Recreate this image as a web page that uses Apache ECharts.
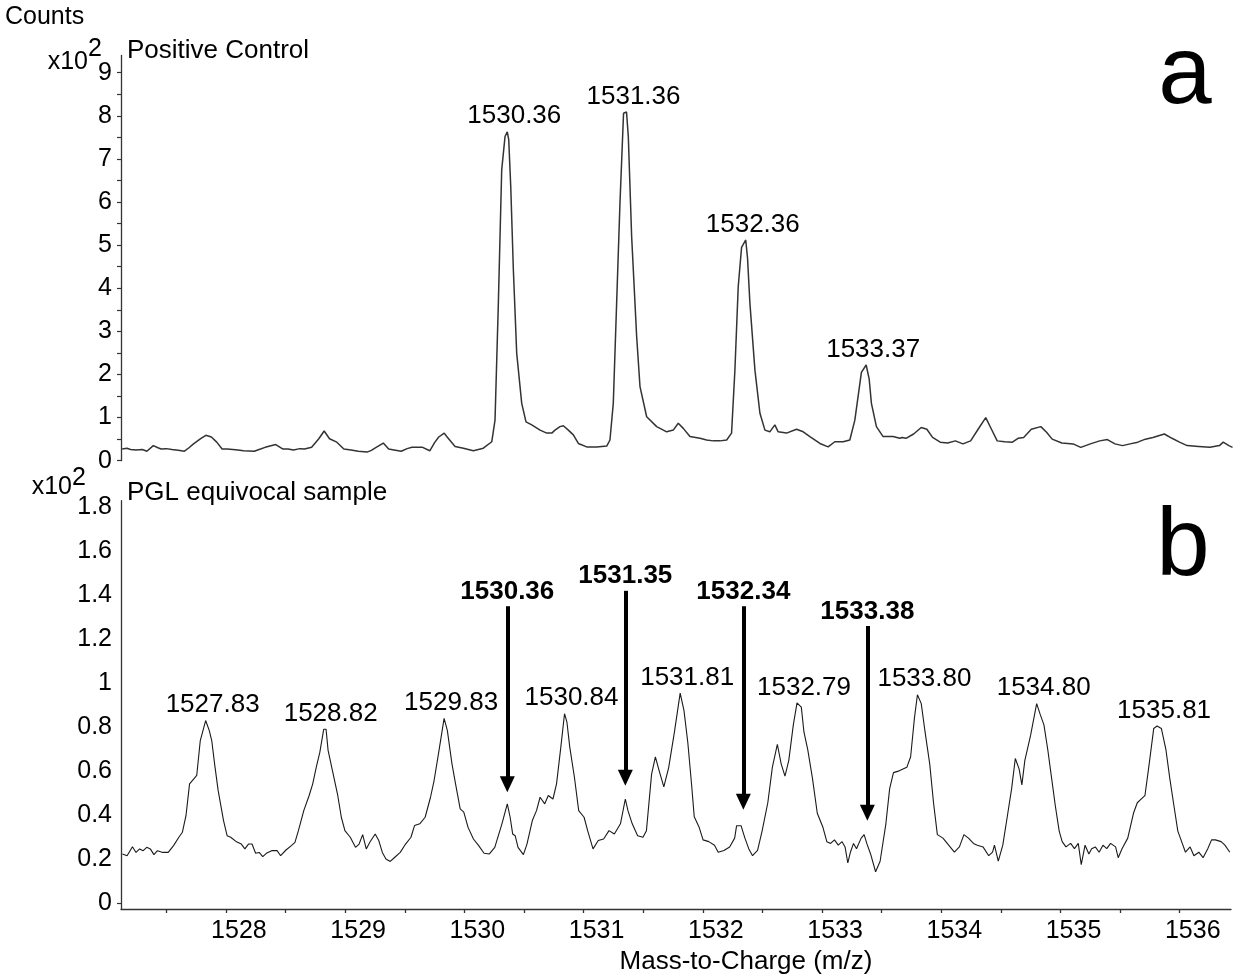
<!DOCTYPE html>
<html>
<head>
<meta charset="utf-8">
<title>Mass spectra</title>
<script src="https://cdn.jsdelivr.net/npm/echarts@6/dist/echarts.min.js"></script>
<style>
  html, body { margin: 0; padding: 0; background: #fff; }
  #chart { width: 1233px; height: 978px; }
</style>
</head>
<body>
<div id="chart"></div>
<script>
// ---- data -------------------------------------------------------------
// Counts are in units of x10^2. Each pair is [m/z, counts].

// Panel a: Positive Control
const topSpectrum = [
  [1527.13, 0.27], [1527.17, 0.29], [1527.2, 0.26], [1527.246, 0.25], [1527.3, 0.26],
  [1527.337, 0.22], [1527.391, 0.35], [1527.43, 0.3], [1527.457, 0.27], [1527.5, 0.28],
  [1527.547, 0.26], [1527.6, 0.24], [1527.652, 0.22], [1527.69, 0.3], [1527.728, 0.39],
  [1527.788, 0.51], [1527.832, 0.59], [1527.878, 0.55], [1527.923, 0.43], [1527.968, 0.27],
  [1528.01, 0.27], [1528.058, 0.26], [1528.1, 0.25], [1528.148, 0.23], [1528.238, 0.22],
  [1528.29, 0.27], [1528.329, 0.31], [1528.418, 0.375], [1528.479, 0.27], [1528.52, 0.27],
  [1528.568, 0.25], [1528.62, 0.28], [1528.659, 0.27], [1528.719, 0.31], [1528.779, 0.51],
  [1528.824, 0.69], [1528.869, 0.51], [1528.93, 0.43], [1528.989, 0.27], [1529.049, 0.25],
  [1529.11, 0.22], [1529.184, 0.2], [1529.22, 0.24], [1529.26, 0.31], [1529.32, 0.41],
  [1529.365, 0.27], [1529.41, 0.25], [1529.47, 0.22], [1529.52, 0.28], [1529.56, 0.31],
  [1529.61, 0.31], [1529.65, 0.31], [1529.71, 0.23], [1529.75, 0.42], [1529.785, 0.55],
  [1529.831, 0.64], [1529.852, 0.56], [1529.922, 0.33], [1529.992, 0.29], [1530.075, 0.23],
  [1530.159, 0.29], [1530.23, 0.44], [1530.257, 0.94], [1530.285, 3.65], [1530.313, 6.74],
  [1530.341, 7.52], [1530.36, 7.63], [1530.372, 7.45], [1530.389, 6.36], [1530.411, 4.42],
  [1530.439, 2.49], [1530.481, 1.33], [1530.517, 0.9], [1530.565, 0.83], [1530.635, 0.71],
  [1530.691, 0.64], [1530.733, 0.64], [1530.76, 0.71], [1530.802, 0.79], [1530.83, 0.81],
  [1530.872, 0.71], [1530.914, 0.6], [1530.956, 0.4], [1531.026, 0.32], [1531.11, 0.32],
  [1531.194, 0.34], [1531.221, 0.48], [1531.249, 1.33], [1531.277, 3.65], [1531.305, 5.97],
  [1531.335, 8.06], [1531.36, 8.09], [1531.375, 7.52], [1531.403, 5.2], [1531.445, 2.88],
  [1531.473, 1.72], [1531.529, 1.02], [1531.613, 0.79], [1531.697, 0.67], [1531.752, 0.71],
  [1531.794, 0.87], [1531.836, 0.75], [1531.892, 0.56], [1531.976, 0.52], [1532.032, 0.48],
  [1532.087, 0.46], [1532.143, 0.46], [1532.2, 0.48], [1532.241, 0.64], [1532.269, 2.1],
  [1532.297, 4.04], [1532.325, 4.95], [1532.36, 5.12], [1532.375, 4.7], [1532.395, 3.65],
  [1532.437, 2.1], [1532.479, 1.1], [1532.521, 0.71], [1532.562, 0.67], [1532.604, 0.83],
  [1532.632, 0.67], [1532.702, 0.64], [1532.786, 0.73], [1532.842, 0.67], [1532.898, 0.56],
  [1532.982, 0.4], [1533.051, 0.32], [1533.107, 0.44], [1533.177, 0.44], [1533.233, 0.48],
  [1533.275, 0.94], [1533.33, 2.05], [1533.37, 2.22], [1533.395, 1.9], [1533.414, 1.33],
  [1533.456, 0.79], [1533.512, 0.56], [1533.596, 0.56], [1533.652, 0.52], [1533.672, 0.54],
  [1533.704, 0.52], [1533.768, 0.62], [1533.832, 0.77], [1533.879, 0.73], [1533.927, 0.54],
  [1533.991, 0.43], [1534.054, 0.41], [1534.118, 0.46], [1534.182, 0.39], [1534.246, 0.46],
  [1534.309, 0.73], [1534.373, 1.0], [1534.421, 0.73], [1534.469, 0.46], [1534.532, 0.44],
  [1534.596, 0.43], [1534.644, 0.52], [1534.691, 0.54], [1534.755, 0.73], [1534.835, 0.79],
  [1534.883, 0.66], [1534.93, 0.5], [1535.011, 0.41], [1535.106, 0.39], [1535.17, 0.31],
  [1535.25, 0.39], [1535.329, 0.46], [1535.393, 0.49], [1535.457, 0.39], [1535.52, 0.35],
  [1535.584, 0.39], [1535.648, 0.43], [1535.712, 0.5], [1535.775, 0.54], [1535.871, 0.62],
  [1535.935, 0.52], [1535.998, 0.43], [1536.062, 0.35], [1536.158, 0.33], [1536.253, 0.31],
  [1536.333, 0.35], [1536.365, 0.43], [1536.412, 0.35], [1536.443, 0.31]
];
const topPeakMz = [1530.36, 1531.36, 1532.36, 1533.37];
const topPeakCounts = [7.63, 8.09, 5.12, 2.22];

// Panel b: PGL equivocal sample
const bottomSpectrum = [
  [1527.132, 0.223], [1527.171, 0.215], [1527.216, 0.256], [1527.246, 0.23], [1527.276, 0.246],
  [1527.306, 0.238], [1527.336, 0.253], [1527.366, 0.246], [1527.396, 0.22], [1527.426, 0.238],
  [1527.471, 0.23], [1527.516, 0.23], [1527.561, 0.261], [1527.605, 0.299], [1527.635, 0.322],
  [1527.665, 0.397], [1527.695, 0.542], [1527.731, 0.565], [1527.755, 0.58], [1527.785, 0.739],
  [1527.83, 0.83], [1527.86, 0.785], [1527.881, 0.739], [1527.905, 0.633], [1527.935, 0.511],
  [1527.98, 0.375], [1528.01, 0.306], [1528.04, 0.299], [1528.084, 0.28], [1528.129, 0.268],
  [1528.159, 0.246], [1528.189, 0.268], [1528.219, 0.268], [1528.249, 0.226], [1528.279, 0.23],
  [1528.309, 0.211], [1528.339, 0.226], [1528.384, 0.238], [1528.429, 0.238], [1528.459, 0.215],
  [1528.504, 0.241], [1528.549, 0.261], [1528.579, 0.276], [1528.608, 0.329], [1528.653, 0.42],
  [1528.698, 0.489], [1528.728, 0.542], [1528.758, 0.618], [1528.788, 0.686], [1528.82, 0.79],
  [1528.84, 0.79], [1528.857, 0.694], [1528.893, 0.603], [1528.938, 0.489], [1528.968, 0.39],
  [1528.998, 0.329], [1529.043, 0.299], [1529.087, 0.253], [1529.117, 0.268], [1529.147, 0.311],
  [1529.177, 0.246], [1529.207, 0.276], [1529.252, 0.314], [1529.282, 0.284], [1529.312, 0.23],
  [1529.342, 0.2], [1529.378, 0.189], [1529.417, 0.208], [1529.462, 0.23], [1529.507, 0.268],
  [1529.552, 0.299], [1529.582, 0.352], [1529.626, 0.36], [1529.671, 0.39], [1529.716, 0.481],
  [1529.746, 0.557], [1529.785, 0.686], [1529.83, 0.84], [1529.857, 0.785], [1529.896, 0.633],
  [1529.926, 0.542], [1529.965, 0.428], [1529.995, 0.413], [1530.031, 0.344], [1530.076, 0.291],
  [1530.12, 0.261], [1530.165, 0.226], [1530.21, 0.223], [1530.255, 0.253], [1530.315, 0.36],
  [1530.36, 0.451], [1530.384, 0.39], [1530.405, 0.314], [1530.426, 0.306], [1530.45, 0.253],
  [1530.495, 0.22], [1530.525, 0.268], [1530.57, 0.375], [1530.605, 0.42], [1530.635, 0.481],
  [1530.674, 0.451], [1530.704, 0.489], [1530.743, 0.473], [1530.773, 0.542], [1530.809, 0.709],
  [1530.84, 0.861], [1530.86, 0.823], [1530.884, 0.709], [1530.923, 0.572], [1530.959, 0.42],
  [1531.004, 0.39], [1531.034, 0.329], [1531.079, 0.246], [1531.123, 0.284], [1531.168, 0.291],
  [1531.213, 0.329], [1531.258, 0.314], [1531.309, 0.36], [1531.35, 0.473], [1531.372, 0.42],
  [1531.408, 0.36], [1531.453, 0.306], [1531.498, 0.299], [1531.527, 0.329], [1531.57, 0.585],
  [1531.602, 0.665], [1531.634, 0.601], [1531.673, 0.528], [1531.714, 0.617], [1531.762, 0.778],
  [1531.81, 0.955], [1531.842, 0.875], [1531.874, 0.73], [1531.906, 0.537], [1531.928, 0.392],
  [1531.97, 0.343], [1532.002, 0.287], [1532.05, 0.279], [1532.098, 0.263], [1532.129, 0.231],
  [1532.177, 0.239], [1532.225, 0.255], [1532.267, 0.295], [1532.283, 0.351], [1532.321, 0.351],
  [1532.353, 0.295], [1532.385, 0.247], [1532.417, 0.215], [1532.459, 0.239], [1532.497, 0.327],
  [1532.545, 0.456], [1532.583, 0.617], [1532.625, 0.722], [1532.657, 0.633], [1532.689, 0.577],
  [1532.721, 0.649], [1532.759, 0.81], [1532.79, 0.91], [1532.826, 0.891], [1532.848, 0.778],
  [1532.88, 0.698], [1532.919, 0.569], [1532.96, 0.408], [1533.008, 0.343], [1533.04, 0.279],
  [1533.072, 0.271], [1533.104, 0.287], [1533.136, 0.263], [1533.168, 0.279], [1533.193, 0.255],
  [1533.216, 0.182], [1533.238, 0.231], [1533.264, 0.271], [1533.289, 0.247], [1533.328, 0.295],
  [1533.353, 0.311], [1533.375, 0.271], [1533.407, 0.223], [1533.449, 0.142], [1533.487, 0.19],
  [1533.535, 0.359], [1533.567, 0.52], [1533.599, 0.593], [1533.647, 0.601], [1533.679, 0.609],
  [1533.711, 0.617], [1533.743, 0.665], [1533.775, 0.842], [1533.8, 0.947], [1533.832, 0.907],
  [1533.864, 0.778], [1533.903, 0.633], [1533.935, 0.456], [1533.967, 0.311], [1534.014, 0.295],
  [1534.062, 0.263], [1534.11, 0.231], [1534.152, 0.255], [1534.19, 0.311], [1534.228, 0.295],
  [1534.27, 0.271], [1534.302, 0.263], [1534.35, 0.255], [1534.398, 0.215], [1534.43, 0.231],
  [1534.446, 0.263], [1534.478, 0.19], [1534.516, 0.263], [1534.558, 0.408], [1534.59, 0.52],
  [1534.621, 0.657], [1534.653, 0.609], [1534.676, 0.537], [1534.701, 0.649], [1534.749, 0.762],
  [1534.8, 0.907], [1534.829, 0.859], [1534.861, 0.81], [1534.893, 0.698], [1534.925, 0.569],
  [1534.957, 0.44], [1534.989, 0.327], [1535.014, 0.279], [1535.046, 0.255], [1535.085, 0.271],
  [1535.117, 0.247], [1535.149, 0.271], [1535.174, 0.174], [1535.206, 0.263], [1535.238, 0.223],
  [1535.261, 0.247], [1535.292, 0.255], [1535.324, 0.231], [1535.356, 0.263], [1535.388, 0.247],
  [1535.42, 0.271], [1535.462, 0.255], [1535.484, 0.206], [1535.516, 0.247], [1535.564, 0.295],
  [1535.612, 0.408], [1535.644, 0.456], [1535.676, 0.472], [1535.708, 0.488], [1535.74, 0.617],
  [1535.782, 0.794], [1535.81, 0.805], [1535.846, 0.794], [1535.884, 0.698], [1535.916, 0.569],
  [1535.952, 0.44], [1535.984, 0.327], [1536.016, 0.279], [1536.048, 0.231], [1536.087, 0.255],
  [1536.119, 0.215], [1536.16, 0.231], [1536.196, 0.206], [1536.235, 0.247], [1536.267, 0.287],
  [1536.299, 0.287], [1536.347, 0.279], [1536.379, 0.263], [1536.42, 0.231]
];
const bottomPeakMz = [1527.83, 1528.82, 1529.83, 1530.84, 1531.81, 1532.79, 1533.80, 1534.80, 1535.81];
const bottomPeakCounts = [0.83, 0.79, 0.84, 0.861, 0.955, 0.91, 0.947, 0.907, 0.805];

// Arrows pointing at the weak isotope signals (bold labels)
const arrowMz = [1530.36, 1531.35, 1532.34, 1533.38];
const arrowTop = [1.35, 1.42, 1.35, 1.26];
const arrowEnd = [0.54, 0.57, 0.46, 0.41];

// Axis ticks and labels
const xLabelValues = [1528, 1529, 1530, 1531, 1532, 1533, 1534, 1535, 1536];
const xTickValues = [1527.5, 1528, 1528.5, 1529, 1529.5, 1530, 1530.5, 1531, 1531.5, 1532,
                     1532.5, 1533, 1533.5, 1534, 1534.5, 1535, 1535.5, 1536];
const topYLabels = [0, 1, 2, 3, 4, 5, 6, 7, 8, 9];
const topYTicks = [0, 0.5, 1, 1.5, 2, 2.5, 3, 3.5, 4, 4.5, 5, 5.5, 6, 6.5, 7, 7.5, 8, 8.5, 9];
const bottomYLabels = [0, 0.2, 0.4, 0.6, 0.8, 1, 1.2, 1.4, 1.6, 1.8];
const bottomYTicks = [0];

// ---- chart ------------------------------------------------------------
const FONT = '"Liberation Sans", Arial, Helvetica, sans-serif';
const INK = '#000';
const AXIS = '#333';
const X_MIN = 1527.12, X_MAX = 1536.43;

const chart = echarts.init(document.getElementById('chart'), null, { renderer: 'canvas' });

const fmtMz = p => p.value[0].toFixed(2);
const plainNumber = v => String(v);

function labelSeries(xi, mz, counts, bold) {
  return {
    type: 'scatter',
    xAxisIndex: xi, yAxisIndex: xi,
    data: mz.map((m, i) => [m, counts[i]]),
    symbolSize: 1,
    itemStyle: { color: 'rgba(255,255,255,0)' },
    silent: true,
    z: 5,
    label: {
      show: true, position: 'top',
      distance: bold ? 1 : 2,
      offset: bold ? [0, 0] : [7, 0],
      formatter: fmtMz, fontSize: 26,
      fontWeight: bold ? 'bold' : 'normal',
      color: INK, opacity: 1, fontFamily: FONT
    }
  };
}

const yAxisCommon = {
  type: 'value',
  splitLine: { show: false },
  axisLine: { show: true, onZero: false, lineStyle: { color: AXIS, width: 1.3 } }
};

const option = {
  animation: false,
  backgroundColor: '#fff',
  textStyle: { fontFamily: FONT },
  grid: [
    { left: 121, right: 2, top: 55.5, height: 405.2 },
    { left: 121, right: 2, top: 500.7, height: 408.3 }
  ],
  xAxis: [
    { type: 'value', gridIndex: 0, min: X_MIN, max: X_MAX, show: false },
    {
      type: 'value', gridIndex: 1, min: X_MIN, max: X_MAX,
      name: 'Mass-to-Charge (m/z)', nameLocation: 'middle', nameGap: 40,
      nameTextStyle: { fontSize: 26, color: INK, fontFamily: FONT, padding: [0, 0, 0, 140] },
      splitLine: { show: false },
      axisLine: { show: true, onZero: false, lineStyle: { color: AXIS, width: 1.3 } },
      axisTick: { show: true, customValues: xTickValues, length: 4, lineStyle: { color: AXIS, width: 1.3 } },
      axisLabel: {
        customValues: xLabelValues, formatter: plainNumber,
        fontSize: 25, color: INK, fontFamily: FONT, margin: 10, padding: [0, 0, 0, 26]
      }
    }
  ],
  yAxis: [
    Object.assign({}, yAxisCommon, {
      gridIndex: 0, min: 0, max: 9.4,
      axisTick: { show: true, customValues: topYTicks, length: 4, lineStyle: { color: AXIS, width: 1.2 } },
      axisLabel: { customValues: topYLabels, formatter: plainNumber, fontSize: 25, color: INK, fontFamily: FONT, margin: 9 }
    }),
    Object.assign({}, yAxisCommon, {
      gridIndex: 1, min: -0.0274, max: 1.83,
      axisTick: { show: true, customValues: bottomYTicks, length: 4, lineStyle: { color: AXIS, width: 1.2 } },
      axisLabel: { customValues: bottomYLabels, formatter: plainNumber, fontSize: 25, color: INK, fontFamily: FONT, margin: 9 }
    })
  ],
  series: [
    {
      type: 'line', xAxisIndex: 0, yAxisIndex: 0,
      data: topSpectrum, showSymbol: false, silent: true,
      lineStyle: { color: '#333', width: 1.5 }
    },
    labelSeries(0, topPeakMz, topPeakCounts, false),
    {
      type: 'line', xAxisIndex: 1, yAxisIndex: 1,
      data: bottomSpectrum, showSymbol: false, silent: true,
      lineStyle: { color: '#1a1a1a', width: 1.1 },
      markLine: {
        silent: true, animation: false,
        symbol: ['none', 'triangle'], symbolSize: [15, 16],
        lineStyle: { color: '#000', width: 4, type: 'solid' },
        label: { show: false },
        emphasis: { disabled: true },
        data: arrowMz.map((m, i) => [{ coord: [m, arrowTop[i]] }, { coord: [m, arrowEnd[i]] }])
      }
    },
    labelSeries(1, bottomPeakMz, bottomPeakCounts, false),
    labelSeries(1, arrowMz, arrowTop, true)
  ],
  graphic: [
    { type: 'text', x: 5, y: 17.5, style: { text: 'Counts', fontSize: 25, fontFamily: FONT, fill: INK, align: 'left', verticalAlign: 'middle' } },
    { type: 'text', x: 88, y: 62, style: { text: 'x10', fontSize: 25, fontFamily: FONT, fill: INK, align: 'right', verticalAlign: 'middle' } },
    { type: 'text', x: 88, y: 49, style: { text: '2', fontSize: 25, fontFamily: FONT, fill: INK, align: 'left', verticalAlign: 'middle' } },
    { type: 'text', x: 127, y: 51, style: { text: 'Positive Control', fontSize: 26, fontFamily: FONT, fill: INK, align: 'left', verticalAlign: 'middle' } },
    { type: 'text', x: 72, y: 487, style: { text: 'x10', fontSize: 25, fontFamily: FONT, fill: INK, align: 'right', verticalAlign: 'middle' } },
    { type: 'text', x: 72, y: 478, style: { text: '2', fontSize: 25, fontFamily: FONT, fill: INK, align: 'left', verticalAlign: 'middle' } },
    { type: 'text', x: 127, y: 493, style: { text: 'PGL equivocal sample', fontSize: 26, fontFamily: FONT, fill: INK, align: 'left', verticalAlign: 'middle' } },
    { type: 'text', x: 1185, y: 77, style: { text: 'a', fontSize: 96, fontFamily: FONT, fill: '#000', align: 'center', verticalAlign: 'middle' } },
    { type: 'text', x: 1183, y: 549, style: { text: 'b', fontSize: 96, fontFamily: FONT, fill: '#000', align: 'center', verticalAlign: 'middle' } }
  ]
};

chart.setOption(option);
</script>
</body>
</html>
